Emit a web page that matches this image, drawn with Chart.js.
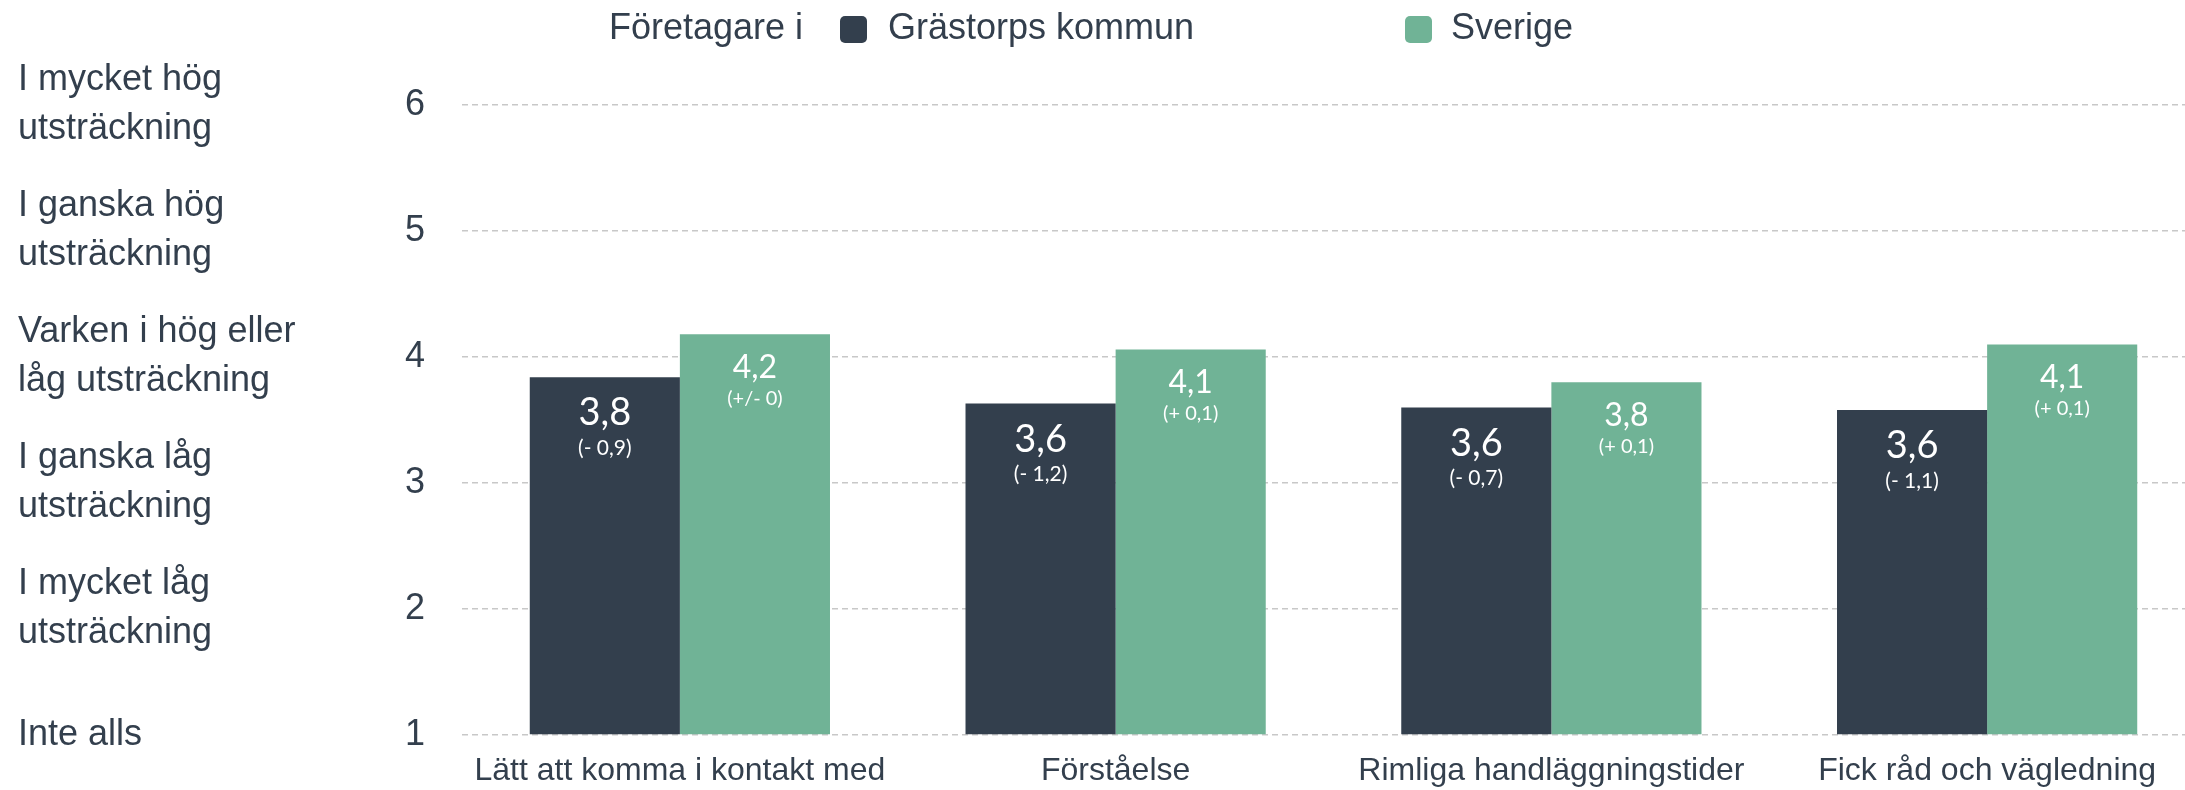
<!DOCTYPE html>
<html lang="sv">
<head>
<meta charset="utf-8">
<title>Företagare i Grästorps kommun och Sverige</title>
<script src="https://cdn.jsdelivr.net/npm/chart.js@4.4.1/dist/chart.umd.min.js"></script>
<style>
  html, body { margin: 0; padding: 0; background: #fff; overflow: hidden; }
  #wrap { width: 2205px; height: 790px; }
</style>
</head>
<body>
<div id="wrap"><canvas id="chart" width="2205" height="790"></canvas></div>
<script>
// --- data ---
const categories = ['Lätt att komma i kontakt med', 'Förståelse', 'Rimliga handläggningstider', 'Fick råd och vägledning'];
const seriesNames = ['Grästorps kommun', 'Sverige'];
const kommunValues = [3.84, 3.63, 3.60, 3.58];
const sverigeValues = [4.18, 4.06, 3.80, 4.10];
const kommunChange = ['(- 0,9)', '(- 1,2)', '(- 0,7)', '(- 1,1)'];
const sverigeChange = ['(+/- 0)', '(+ 0,1)', '(+ 0,1)', '(+ 0,1)'];
const yTicks = [1, 2, 3, 4, 5, 6];
const levelLabels = [
  ['Inte alls'],
  ['I mycket låg', 'utsträckning'],
  ['I ganska låg', 'utsträckning'],
  ['Varken i hög eller', 'låg utsträckning'],
  ['I ganska hög', 'utsträckning'],
  ['I mycket hög', 'utsträckning']
];
const legendTitle = 'Företagare i';

const DARK = '#333f4d';
const GREEN = '#70b396';
const TEXT = '#333f4d';
const GRID = '#c8c8c8';
const FONT = "'Liberation Sans', Arial, sans-serif";

const fmt = v => v.toFixed(1).replace('.', ',');

// value + change labels inside the bars
const barLabels = {
  id: 'barLabels',
  afterDatasetsDraw(chart) {
    const ctx = chart.ctx;
    const styles = [
      { big: 38, small: 21, dy1: 36, dy2: 71, changes: kommunChange },
      { big: 32, small: 20, dy1: 33, dy2: 64, changes: sverigeChange }
    ];
    ctx.save();
    ctx.fillStyle = '#fff';
    ctx.textAlign = 'center';
    ctx.textBaseline = 'middle';
    chart.data.datasets.forEach((ds, i) => {
      const s = styles[i];
      chart.getDatasetMeta(i).data.forEach((bar, j) => {
        ctx.font = `${s.big}px Lato, sans-serif`;
        ctx.fillText(fmt(ds.data[j]), bar.x, bar.y + s.dy1);
        ctx.font = `${s.small}px Lato, sans-serif`;
        ctx.fillText(s.changes[j], bar.x, bar.y + s.dy2);
      });
    });
    ctx.restore();
  }
};

// legend row: "Företagare i  ■ Grästorps kommun      ■ Sverige"
const legendRow = {
  id: 'legendRow',
  afterDraw(chart) {
    const ctx = chart.ctx;
    const y = 29;
    const items = [{ box: 840, text: 888 }, { box: 1405, text: 1451 }];
    ctx.save();
    ctx.font = `36px ${FONT}`;
    ctx.fillStyle = TEXT;
    ctx.textBaseline = 'middle';
    ctx.textAlign = 'left';
    ctx.fillText(legendTitle, 609, y);
    chart.data.datasets.forEach((ds, i) => {
      const it = items[i];
      ctx.fillStyle = ds.backgroundColor;
      ctx.beginPath();
      ctx.roundRect(it.box, y - 13, 27, 27, 5);
      ctx.fill();
      ctx.fillStyle = TEXT;
      ctx.fillText(ds.label, it.text, y);
    });
    ctx.restore();
  }
};

new Chart(document.getElementById('chart'), {
  type: 'bar',
  data: {
    labels: categories,
    datasets: [
      { label: seriesNames[0], data: kommunValues, backgroundColor: DARK, yAxisID: 'y' },
      { label: seriesNames[1], data: sverigeValues, backgroundColor: GREEN, yAxisID: 'y' }
    ]
  },
  options: {
    responsive: false,
    animation: false,
    events: [],
    layout: { padding: { top: 105, left: 18, right: 0, bottom: 0 } },
    datasets: { bar: { categoryPercentage: 0.689, barPercentage: 1.0, base: 1 } },
    plugins: { legend: { display: false }, tooltip: { enabled: false } },
    scales: {
      x: {
        grid: { display: false, drawTicks: false },
        border: { display: false },
        ticks: { color: TEXT, font: { family: FONT, size: 32 }, padding: 17, maxRotation: 0, autoSkip: false },
        afterFit: s => { s.height = 55; }
      },
      y: {
        position: 'left',
        min: yTicks[0],
        max: yTicks[yTicks.length - 1],
        weight: 0,
        afterBuildTicks: s => { s.ticks = yTicks.map(v => ({ value: v })); },
        grid: { color: GRID, lineWidth: 1.5, drawTicks: false },
        border: { display: false, dash: [6, 4] },
        ticks: { color: TEXT, font: { family: FONT, size: 36 }, padding: 37 },
        // keep label padding out of the layout so the plot area sits where the reference has it
        afterFit: s => { s.width = 164; s.paddingTop = 0; s.paddingBottom = 0; }
      },
      levels: {
        position: 'left',
        min: yTicks[0],
        max: yTicks[yTicks.length - 1],
        weight: 1,
        afterBuildTicks: s => { s.ticks = yTicks.map(v => ({ value: v })); },
        grid: { display: false, drawTicks: false },
        border: { display: false },
        ticks: {
          color: TEXT,
          crossAlign: 'far',
          font: { family: FONT, size: 36, lineHeight: 1.36 },
          callback: (v) => levelLabels[yTicks.indexOf(v)] || ''
        },
        afterFit: s => { s.width = 280; s.paddingTop = 0; s.paddingBottom = 0; }
      }
    }
  },
  plugins: [barLabels, legendRow]
});
</script>
</body>
</html>
